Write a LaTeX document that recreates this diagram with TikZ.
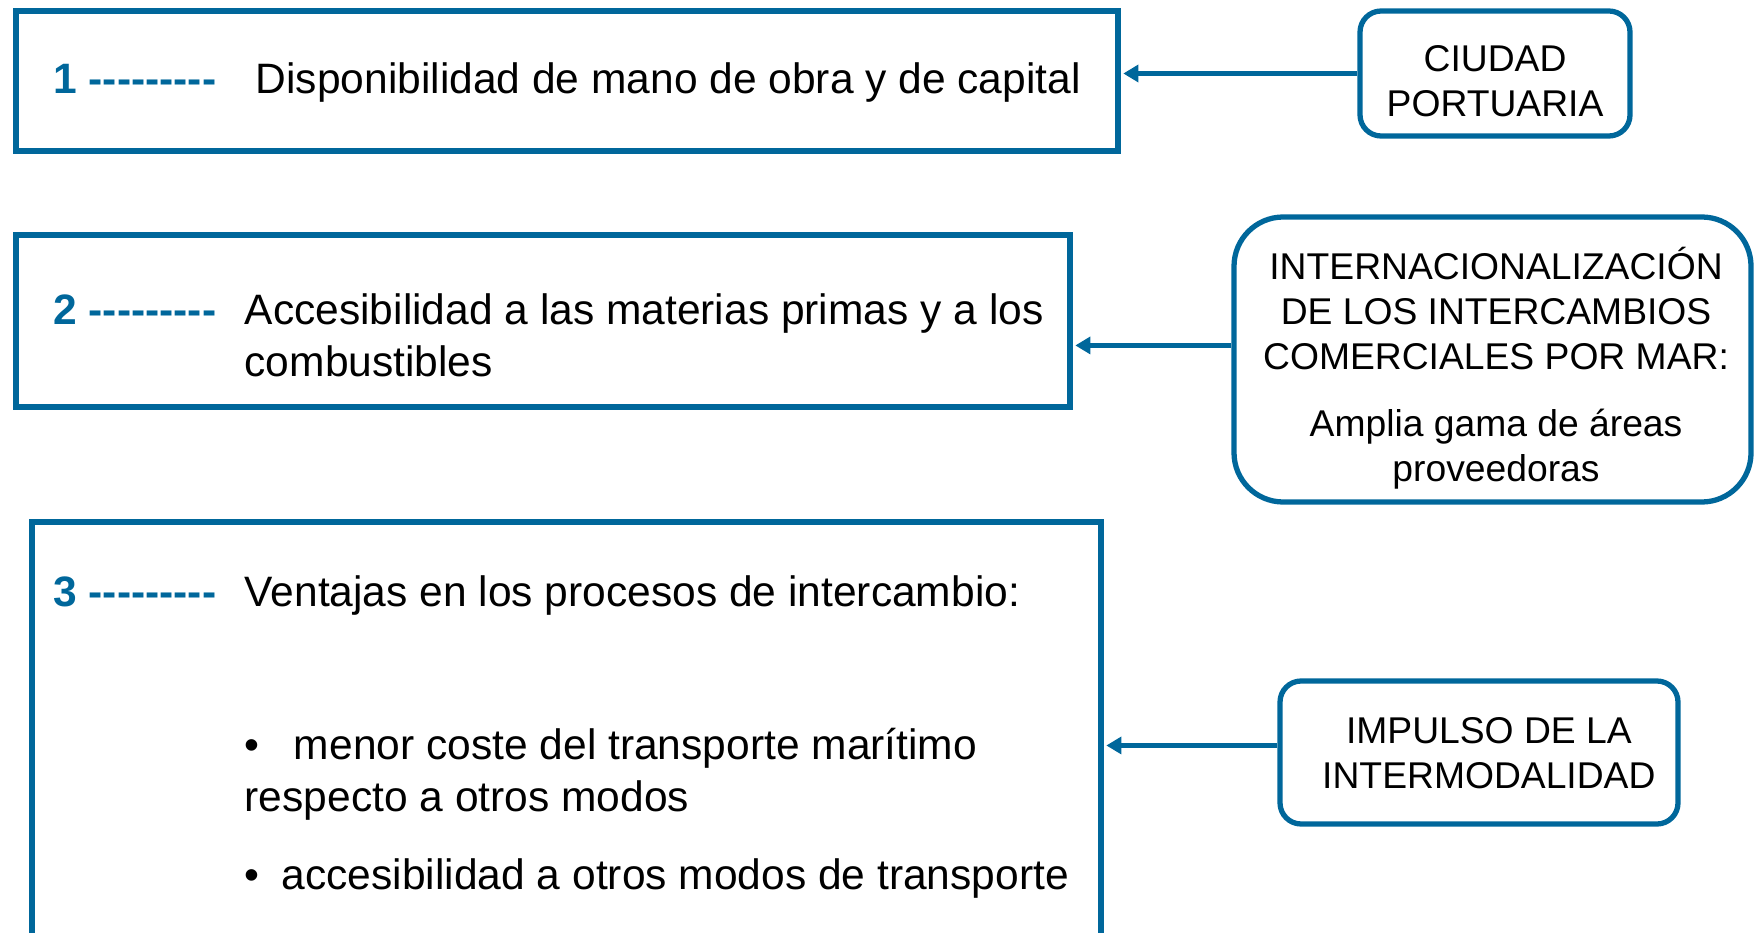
\documentclass[tikz,border=0pt]{standalone}
\usepackage{fontspec}
\setmainfont{Liberation Sans}
\usepackage{tikz}
\usetikzlibrary{arrows.meta}
\usetikzlibrary{positioning}
\definecolor{portblue}{RGB}{0,103,155}
% row of nine hyphens, each boxed so no dash ligature is formed
\newcommand{\dashrow}{\foreach \k in {1,...,9}{\mbox{-}}}
\tikzset{
    factor/.style={
           rectangle,
           draw=portblue, line width=1.6pt,
           inner sep=0pt,
           },
    cause/.style={
           rectangle,
           rounded corners=6pt,
           draw=portblue, line width=1.5pt,
           inner sep=0pt,
           },
    causetext/.style={
           align=center,
           inner sep=0pt,
           font=\fontsize{10.6}{12.75}\selectfont,
           },
    num/.style={
           anchor=base west, inner sep=0pt,
           text=portblue,
           font=\fontsize{12.1}{14.8}\selectfont\bfseries,
           },
    txt/.style={
           anchor=base west, inner sep=0pt,
           align=left,
           font=\fontsize{12.1}{14.8}\selectfont,
           },
    link/.style={
           draw=portblue, line width=1.35pt,
           -{Triangle[length=4.3pt,width=4.8pt]},
           shorten >=0.7pt,
           },
}

\begin{document}
\begin{tikzpicture}

 \useasboundingbox (0,0) rectangle (17.56,-9.33);
 \clip (0,0) rectangle (17.56,-9.33);

 % the three factors (left), the third one runs past the bottom
 \node[factor, minimum width=11.02cm, minimum height=1.40cm] (Factor1) at (5.67,-0.81) {};
 \node[factor, minimum width=10.54cm, minimum height=1.72cm] (Factor2) at (5.43,-3.21) {};
 \node[factor, minimum width=10.69cm, minimum height=4.60cm] (Factor3) at (5.665,-7.52) {};

 % numbers and texts inside the factors
 \node[num] (Num1) at (0.526,-0.936) {1 \dashrow};
 \node[txt] (Txt1) at (2.55,-0.936) {Disponibilidad de mano de obra y de capital};

 \node[num] (Num2) at (0.526,-3.242) {2 \dashrow};
 \node[txt, anchor=west] (Txt2) at (2.44,-3.35)
  {Accesibilidad a las materias primas y a los\\combustibles};

 \node[num] (Num3) at (0.526,-6.062) {3 \dashrow};
 \node[txt] (Txt3) at (2.44,-6.062) {Ventajas en los procesos de intercambio:};
 \node[txt, anchor=west] (Bul1) at (2.44,-7.745)
  {•\hspace{9.8pt}menor coste del transporte marítimo\\respecto a otros modos};
 \node[txt, anchor=west] (Bul2) at (2.44,-8.785)
  {•\hspace{6.3pt}accesibilidad a otros modos de transporte};

 % causes (right)
 \node[cause, minimum width=2.70cm, minimum height=1.25cm] (Ciudad) at (14.95,-0.735) {};
 \node[causetext] (CiudadTxt) at ([yshift=-2.2pt]Ciudad.center)
  {CIUDAD\\PORTUARIA};

 \node[cause,
  rounded corners=14pt,
  minimum width=5.17cm,
  minimum height=2.85cm] (Intl) at (14.925,-3.595) {};
 \node[causetext] (IntlTxt) at ([xshift=1pt,yshift=-2.5pt]Intl.center)
  {INTERNACIONALIZACIÓN\\DE LOS INTERCAMBIOS\\COMERCIALES POR MAR:\\[6.3pt]Amplia gama de áreas\\proveedoras};

 \node[cause, minimum width=3.98cm, minimum height=1.43cm] (Impulso) at (14.79,-7.525) {};
 \node[causetext] (ImpulsoTxt) at ([xshift=2.8pt,yshift=-0.3pt]Impulso.center)
  {IMPULSO DE LA\\INTERMODALIDAD};

 % arrows from the causes to the factors
 \draw[link] (Ciudad.west) -- (Ciudad.west -| Factor1.east);
 \coordinate (IntlOut) at ([yshift=4pt]Intl.west);
 \draw[link] (IntlOut) -- (IntlOut -| Factor2.east);
 \coordinate (ImpOut) at ([yshift=2pt]Impulso.west);
 \draw[link] (ImpOut) -- (ImpOut -| Factor3.east);

\end{tikzpicture}
\end{document}
